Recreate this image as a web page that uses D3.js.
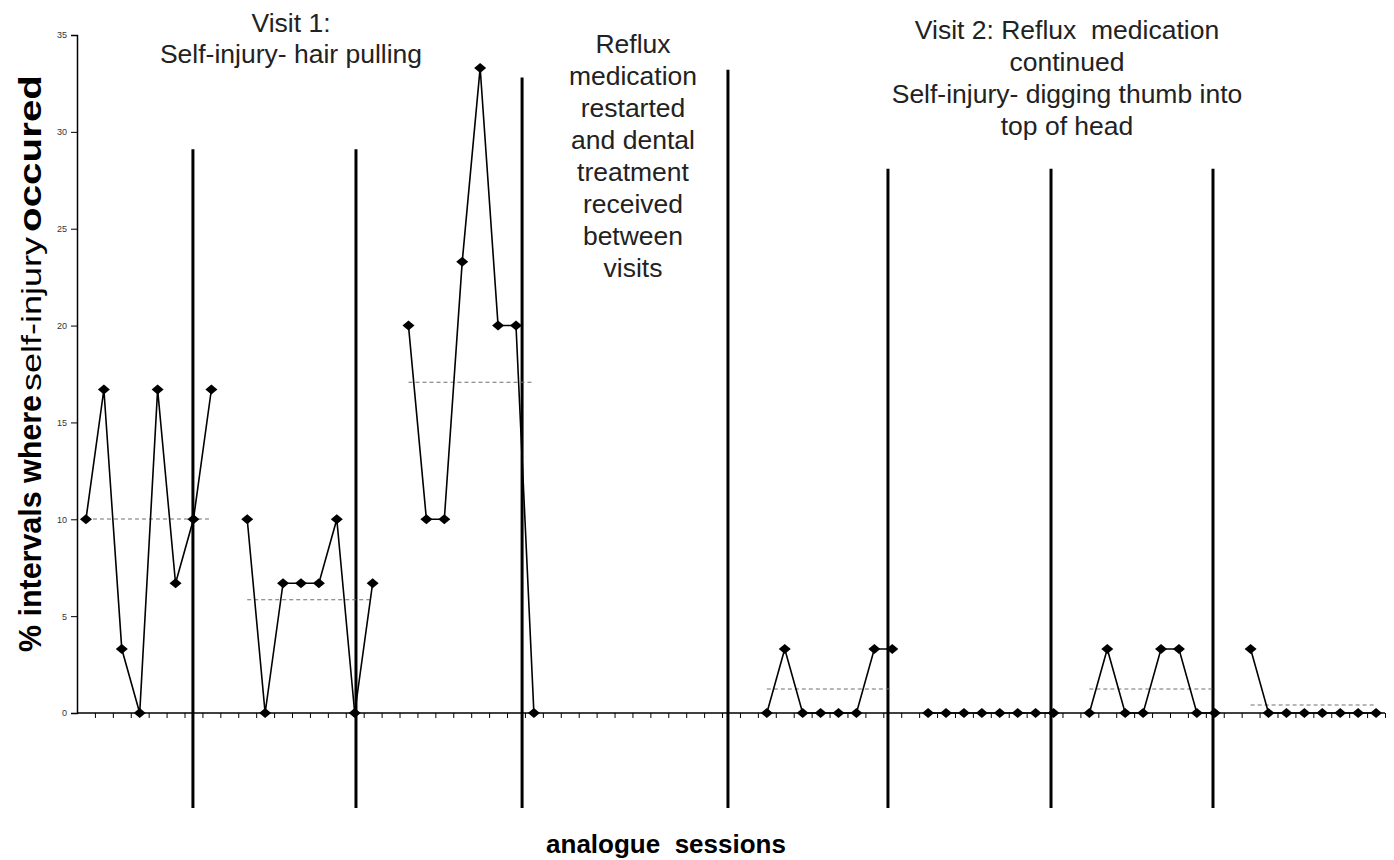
<!DOCTYPE html>
<html>
<head>
<meta charset="utf-8">
<script src="https://cdn.jsdelivr.net/npm/d3@7"></script>
<style>
  html, body { margin: 0; padding: 0; background: #fff; }
  svg { display: block; }
  text { font-family: "Liberation Sans", Arial, sans-serif; }
</style>
</head>
<body>
<svg id="chart" width="1394" height="860"></svg>
<script>
// ---- data ----
const phaseStarts = [0, 9, 18, 38, 47, 56, 65];
const phase1 = [10, 16.7, 3.3, 0, 16.7, 6.7, 10, 16.7];
const phase2 = [10, 0, 6.7, 6.7, 6.7, 10, 0, 6.7];
const phase3 = [20, 10, 10, 23.3, 33.3, 20, 20, 0];
const phase4 = [0, 3.3, 0, 0, 0, 0, 3.3, 3.3];
const phase5 = [0, 0, 0, 0, 0, 0, 0, 0];
const phase6 = [0, 3.3, 0, 0, 3.3, 3.3, 0, 0];
const phase7 = [3.3, 0, 0, 0, 0, 0, 0, 0];
const phases = [phase1, phase2, phase3, phase4, phase5, phase6, phase7];
const sessionCount = 73;
const yTicks = [0, 5, 10, 15, 20, 25, 30, 35];
// phase-change lines, in session units (position, top value)
const phaseLineAt = [5.97, 15.07, 24.34, 35.83, 44.76, 53.86, 62.9];
const phaseLineTop = [29.1, 29.1, 32.8, 33.2, 28.1, 28.1, 28.1];
const phaseLineBottom = -4.9;

const yTitleParts = ["% intervals where", "self-injury", "occured"];
const xTitle = "analogue  sessions";
const note1 = ["Visit 1:", "Self-injury- hair pulling"];
const note2 = ["Reflux", "medication", "restarted", "and dental", "treatment", "received", "between", "visits"];
const note3 = ["Visit 2: Reflux  medication", "continued", "Self-injury- digging thumb into", "top of head"];

// ---- scales ----
const svg = d3.select("#chart");
const x = d3.scaleLinear().domain([-0.5, sessionCount - 0.5]).range([77, 1385]);
const y = d3.scaleLinear().domain([0, 35]).range([713, 35]);

// ---- axes ----
const yAxis = d3.axisLeft(y).tickValues(yTicks).tickSize(6).tickPadding(4);
const gy = svg.append("g").attr("transform", `translate(${x(-0.5)},0)`).call(yAxis);
gy.select(".domain").attr("stroke", "#000").attr("stroke-width", 1.5);
gy.selectAll(".tick line").attr("stroke", "#000").attr("stroke-width", 1);
gy.selectAll(".tick text").attr("font-size", 9).attr("fill", "#333")
  .attr("font-family", "Liberation Sans, Arial, sans-serif");

const xAxis = d3.axisBottom(x)
  .tickValues(d3.range(sessionCount).map(i => i + 0.5))
  .tickSize(5).tickFormat("");
const gx = svg.append("g").attr("transform", `translate(0,${y(0)})`).call(xAxis);
gx.select(".domain").attr("stroke", "#000").attr("stroke-width", 1.5).attr("d", `M${x(-0.5)},0H${x(sessionCount - 0.5)}`);
gx.selectAll(".tick line").attr("stroke", "#000").attr("stroke-width", 1);

// ---- phase lines ----
svg.append("g").selectAll("line").data(phaseLineAt).join("line")
  .attr("x1", d => x(d)).attr("x2", d => x(d))
  .attr("y1", (d, i) => y(phaseLineTop[i])).attr("y2", y(phaseLineBottom))
  .attr("stroke", "#000").attr("stroke-width", 3);

// ---- mean lines ----
const phaseData = phases.map((vals, p) => vals.map((v, j) => ({ i: phaseStarts[p] + j, v })));
svg.append("g").selectAll("line").data(phaseData).join("line")
  .attr("x1", d => x(d[0].i)).attr("x2", d => x(d[d.length - 1].i))
  .attr("y1", d => y(d3.mean(d, e => e.v))).attr("y2", d => y(d3.mean(d, e => e.v)))
  .attr("stroke", "#707070").attr("stroke-width", 1.1).attr("stroke-dasharray", "4,3");

// ---- data lines ----
const line = d3.line().x(d => x(d.i)).y(d => y(d.v));
svg.append("g").selectAll("path").data(phaseData).join("path")
  .attr("d", line).attr("fill", "none").attr("stroke", "#000").attr("stroke-width", 1.6);

// ---- markers ----
const diamond = "M-6,0L0,-5L6,0L0,5Z";
svg.append("g").selectAll("path").data(phaseData.flat()).join("path")
  .attr("d", diamond)
  .attr("transform", d => `translate(${x(d.i)},${y(d.v)})`)
  .attr("fill", "#000");

// ---- titles ----
const yt = svg.append("g").attr("transform", "translate(41,0) rotate(-90)");
const ySpans = [[652, 395, "bold", 31], [391, 237, "normal", 27], [232, 75, "bold", 31]];
yt.selectAll("text").data(yTitleParts).join("text")
  .attr("x", (d, i) => -ySpans[i][0])
  .attr("y", 0)
  .attr("font-weight", (d, i) => ySpans[i][2])
  .attr("font-size", (d, i) => ySpans[i][3])
  .attr("textLength", (d, i) => ySpans[i][0] - ySpans[i][1])
  .attr("lengthAdjust", "spacingAndGlyphs")
  .attr("fill", "#000")
  .text(d => d);

svg.append("text").attr("x", 666).attr("y", 853).attr("text-anchor", "middle")
  .attr("font-weight", "bold").attr("font-size", 26).attr("fill", "#000")
  .style("white-space", "pre").text(xTitle);

function note(lines, cx, y0, dy) {
  svg.append("g").selectAll("text").data(lines).join("text")
    .attr("x", cx).attr("y", (d, i) => y0 + i * dy)
    .attr("text-anchor", "middle").attr("font-size", 26.5).attr("fill", "#222")
    .style("white-space", "pre").text(d => d);
}
note(note1, 291, 32, 31);
note(note2, 633, 53, 32);
note(note3, 1067, 39, 32);
</script>
</body>
</html>
